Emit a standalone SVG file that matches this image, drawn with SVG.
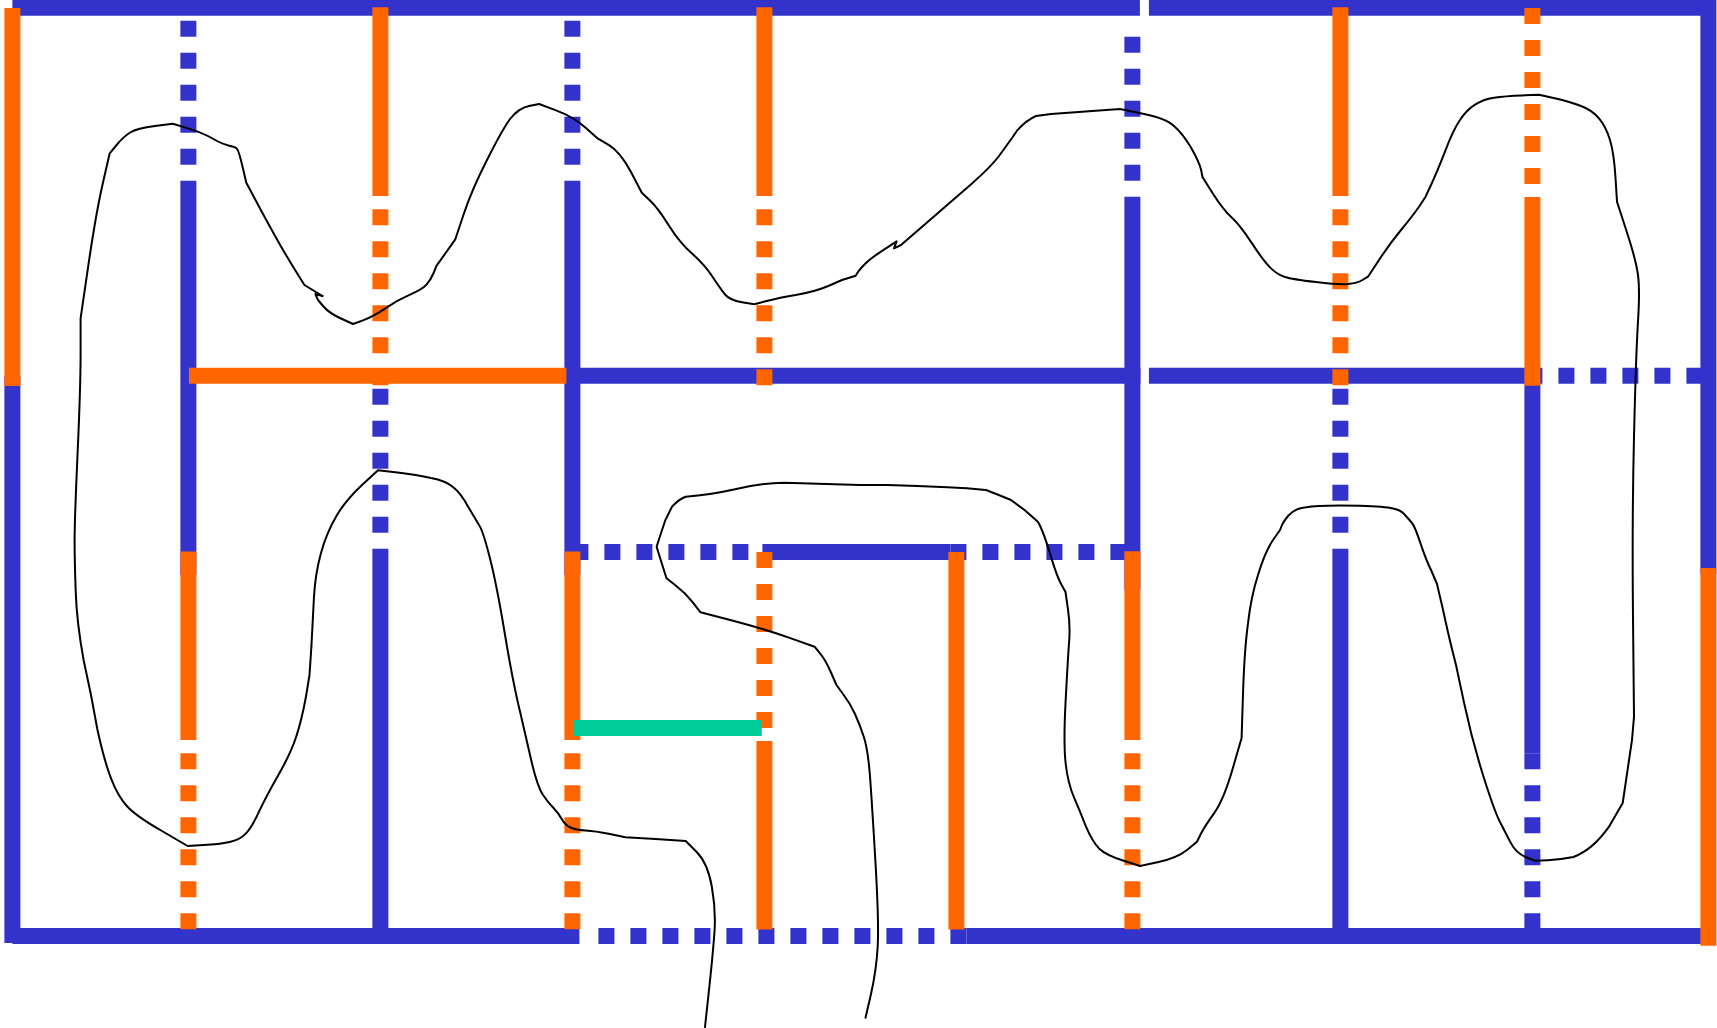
<svg xmlns="http://www.w3.org/2000/svg" width="1717" height="1028" viewBox="0 0 1717 1028">
<style>
.b{stroke:#3333cc;stroke-width:16;fill:none}
.o{stroke:#ff6600;stroke-width:16;fill:none}
.g{stroke:#00cc99;stroke-width:16;fill:none}
.d{stroke-dasharray:16 16}
.k{stroke:#000;stroke-width:2;fill:none;stroke-linejoin:round;stroke-linecap:round}
</style>
<rect width="1717" height="1028" fill="#fff"/>
<g id="connectors" transform="translate(0.4 0)">
<g id="blue-lines">
<path class="b" d="M12 7.8H1139.5M1148.5 7.8H1708"/>
<path class="b" d="M12 376V943"/>
<path class="b" d="M1708 0V574"/>
<path class="b d" d="M188 20.7V196"/>
<path class="b" d="M188 196V575"/>
<path class="b d" d="M380 388.7V564"/>
<path class="b" d="M380 564V936"/>
<path class="b d" d="M572 20.7V196"/>
<path class="b" d="M572 196V575"/>
<path class="b d" d="M1132 36.7V212"/>
<path class="b" d="M1132 212V590"/>
<path class="b d" d="M1340 388.7V564"/>
<path class="b" d="M1340 564V936"/>
<path class="b" d="M1532 376V753.3"/>
<path class="b d" d="M1532 753.3V936"/>
<path class="b" d="M566 375.8H1140M1148.5 375.8H1526"/>
<path class="b d" d="M1526 375.8H1702"/>
<path class="b d" d="M572 552H748"/>
<path class="b" d="M762 552H950"/>
<path class="b d" d="M950 552H1126"/>
<path class="b" d="M12 936H579"/>
<path class="b d" d="M598 936H966"/>
<path class="b" d="M966 936H1708"/>
</g>
<g id="orange-lines">
<path class="o" d="M12 8V386"/>
<path class="o" d="M188 551.5V740"/>
<path class="o d" d="M188 753.3V929.3"/>
<path class="o" d="M380 7.3V196"/>
<path class="o d" d="M380 209.3V385.3"/>
<path class="o" d="M188.5 375.8H566"/>
<path class="o" d="M572 551.5V740"/>
<path class="o d" d="M572 753.3V929.3"/>
<path class="o" d="M764 7.3V196"/>
<path class="o d" d="M764 209.3V385.3"/>
<path class="o d" d="M764 552V728"/>
<path class="o" d="M764 741V929.5"/>
<path class="o" d="M956 552V929.5"/>
<path class="o" d="M1132 551.3V740"/>
<path class="o d" d="M1132 753.3V929.3"/>
<path class="o" d="M1340 7.3V196"/>
<path class="o d" d="M1340 209.3V385.3"/>
<path class="o d" d="M1532 8V184"/>
<path class="o" d="M1532 197V385.7"/>
<path class="o" d="M1708 568V945.7"/>
</g>
<path id="green-line" class="g" d="M572.7 728H761.4"/>
</g>
<g id="curves">
<path id="curve-left" class="k" d="M322.5 296L304.4 285L292 265Q279.8 245 263 213.9L246.3 182.7L242.5 166.4Q238.6 150 236.7 148.4Q234.8 146.7 228.4 145.4Q222 144 212.5 138.5Q203 133 188 128.4L172.8 123.7L154.9 126Q137 128.3 130.2 132.5Q123.4 136.7 116.6 145L109.7 153.3L102.9 183Q96 213 88.3 265.7L80.6 318.3L80.6 352.5Q80.6 386.7 77.6 453Q74.6 520 74.6 540Q74.6 560 75.7 591.5Q76.8 623 83.7 660.5L91 695L97.3 729Q104 760 111 778.4Q118 796.7 127.5 806.7Q137 816.7 162 831L187.6 846L203.5 845Q219.4 844.3 229.6 842Q239.7 840 246 833.4Q252.3 826.7 259 811.7Q266 796.7 278.4 775Q290.7 753.3 296.2 736.7Q301.7 720 306 696.5L309.5 675L311.4 646.5Q312.7 620 314 596.5Q315.4 573 321 553Q326.4 533 337 515Q346 500 362 485L378 470.3L397.5 472.6Q417 475 431 478Q445.4 480.7 453 487Q460.8 493 468 506.5Q476 520 479 525Q482.7 530 489.5 556.5Q496.4 583 504.7 633Q513 683 520 711.5Q526.6 740 532 763.4Q537.6 786.7 543 795Q548.5 803 553.5 808Q558.4 813 561.7 819Q565 825 570.5 827.5Q576 830 585.5 830.5Q595 831 610 834L625.3 837.3L655.5 839L685.7 841L696.7 852Q707.6 863 711.8 886.5Q716 910 714.5 931.5Q713 953 709 990L705 1027"/>
<path id="curve-main" class="k" d="M322.5 296L315.4 294L318 300L323.5 306.5Q329 313 341 318.5L353 324L363 320.4Q373 316.7 385.4 308.4Q397.7 300 410 294.7Q422.4 289.3 426.5 284.7Q430.6 280 433.6 273L436.6 265.7L446 252.5L455.3 239.3L463.5 214.7Q471.7 190 487 160Q502 130 510 119Q518.4 108.3 529 106L539.2 104L556 110.4Q573.2 116.7 585.6 127.7L598 138.7L609 145.2Q620 151.7 631 172L641.8 192.7L650 200.5Q658.3 208.3 669 225.8Q680 243.3 692.5 254Q705 265 713 277.5Q721.3 290 725.5 295Q729.6 300 742 302.2L754.3 304.3L766.6 301Q779 297.7 797 294.7Q814.6 291.7 828.3 286L842 280L855.7 275.7L858 272Q860 269 865.5 263.5Q871 258 884 249.6L896.6 241.3L894 248.3L901 245L927 222.5Q953 200 972 183.4Q991 166.7 999 156L1012 138L1017 130.7Q1026.5 120 1036 116Q1043.5 115 1051 114L1085.5 111.5L1120 109L1143 113.7Q1166 118.3 1174 126Q1182.4 133.3 1191 147.5Q1199 161.7 1201 169.5L1202.6 177.3L1213 193.7Q1223.4 210 1231.7 217.5Q1240 225 1252 243.4Q1264 261.7 1271 268.4Q1278 275 1285 277Q1291.7 279.3 1316 282Q1340 285 1348.5 284Q1357 283.3 1362.5 280L1368 276.7L1379 260Q1390 243.3 1401 230Q1412 216.7 1419 206.7L1425.6 196.7L1431 185Q1436.5 173.3 1445 151.7Q1453 130 1460 120Q1466.6 110 1475 104.7Q1483 99.3 1494 97.7Q1505 96 1522 95.4L1539 94.7L1554.7 98.2Q1570.4 101.7 1581 106Q1592 110 1599 118.4Q1606 126.7 1610 140Q1614 153.3 1615.5 177.5L1617 201.7L1626.5 231Q1636 260 1638 275Q1640 290 1638 321.5Q1636 353 1634 436.5Q1632 520 1633 618L1634 716.7L1632 740L1622.7 803L1609 826.7Q1592.6 850 1573.5 857Q1560 859.7 1547.5 860.2L1535 860.7L1525.5 857Q1516 853 1510.5 842.4L1505 831.7L1499.5 821Q1494 810 1483 775Q1472 740 1464 702.5L1456 665L1452 649Q1448 633 1442.5 607.5L1437 584L1431.5 571Q1426 560 1420.5 543.4Q1415 526.7 1412 523Q1409.5 520 1405 515Q1401 510 1393 508.4Q1385 506.7 1360 505.8Q1335 505 1319 506Q1302.6 507 1297 509.4Q1291.7 511.7 1288 516Q1284.6 520 1282 525L1280 530L1272 541.5Q1264.6 553 1258 575Q1251 596.7 1248 623.4Q1244.4 650 1243 694L1241.6 738L1232.6 769Q1223.6 800 1214 813.4Q1204.5 826.7 1200.8 834L1197 841.7L1187 850Q1177 858 1158.5 862L1140 866L1123 860.5Q1106 855 1099 848.4Q1092.4 841.7 1086 826.7L1080 811.7L1074 797.4Q1067.8 783 1065.6 763Q1063.4 743 1065.6 701.5Q1067.8 660 1069 643.4Q1070.5 626.7 1068 609.7L1065.5 592L1061.5 584.7Q1057 576.7 1051.5 558.4Q1046 540 1042.5 531.5Q1039 523 1037.5 521.5Q1036 520 1024.5 510L1011 500Q999 495 986 490Q966.7 488 947.4 487.3Q917.4 486 887.3 485Q873.6 485 860 485Q822 483.9 784.4 482.7Q760 483 735 489.3Q710 495 685.7 496.7Q679 499 672 506.7Q668.7 513.4 665.4 520Q661 533 656.6 546.7L661.5 562.5L666.5 578.3L676 585.7Q685.7 593 693 602.7L700.5 612.3L734 621Q768 630 791 638.4L814.6 646.7L820 653.4Q825.6 660 831 672.5L836.5 685L843 694Q850 703 855 714Q860 725 864 737.5Q868 750 870 776.5Q872 803 875.5 863Q879 923 877.7 946.5Q876.4 970 871 994L865.5 1017.7"/>
</g>
</svg>
